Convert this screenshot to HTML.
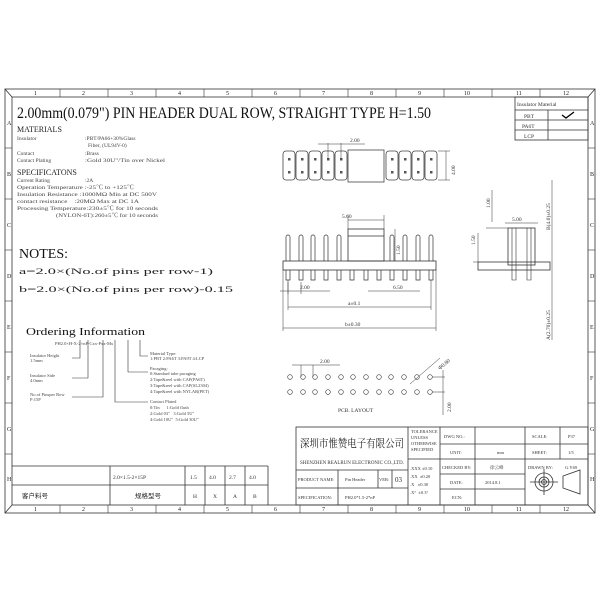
<!DOCTYPE html>
<html><head><meta charset="utf-8"><style>
html,body{margin:0;padding:0;background:#fff;}
svg{display:block;font-family:"Liberation Serif","Noto Serif CJK SC",serif;}
</style></head><body>
<svg width="600" height="600" viewBox="0 0 600 600" xmlns="http://www.w3.org/2000/svg">
<g fill="none" stroke="#333" stroke-width="0.8">
<rect x="5" y="89" width="590" height="424"/>
<rect x="12" y="97" width="576" height="408"/>
<line x1="5" y1="89" x2="12" y2="97"/><line x1="595" y1="89" x2="588" y2="97"/>
<line x1="5" y1="513" x2="12" y2="505"/><line x1="595" y1="513" x2="588" y2="505"/>
<g stroke-width="0.6">
<line x1="60" y1="89" x2="60" y2="97"/><line x1="108" y1="89" x2="108" y2="97"/><line x1="156" y1="89" x2="156" y2="97"/><line x1="204" y1="89" x2="204" y2="97"/><line x1="252" y1="89" x2="252" y2="97"/><line x1="300" y1="89" x2="300" y2="97"/><line x1="348" y1="89" x2="348" y2="97"/><line x1="396" y1="89" x2="396" y2="97"/><line x1="444" y1="89" x2="444" y2="97"/><line x1="492" y1="89" x2="492" y2="97"/><line x1="540" y1="89" x2="540" y2="97"/>
<line x1="60" y1="505" x2="60" y2="513"/><line x1="108" y1="505" x2="108" y2="513"/><line x1="156" y1="505" x2="156" y2="513"/><line x1="204" y1="505" x2="204" y2="513"/><line x1="252" y1="505" x2="252" y2="513"/><line x1="300" y1="505" x2="300" y2="513"/><line x1="348" y1="505" x2="348" y2="513"/><line x1="396" y1="505" x2="396" y2="513"/><line x1="444" y1="505" x2="444" y2="513"/><line x1="492" y1="505" x2="492" y2="513"/><line x1="540" y1="505" x2="540" y2="513"/>
<line x1="5" y1="148" x2="12" y2="148"/><line x1="5" y1="199" x2="12" y2="199"/><line x1="5" y1="250" x2="12" y2="250"/><line x1="5" y1="301" x2="12" y2="301"/><line x1="5" y1="352" x2="12" y2="352"/><line x1="5" y1="403" x2="12" y2="403"/><line x1="5" y1="454" x2="12" y2="454"/>
<line x1="588" y1="148" x2="595" y2="148"/><line x1="588" y1="199" x2="595" y2="199"/><line x1="588" y1="250" x2="595" y2="250"/><line x1="588" y1="301" x2="595" y2="301"/><line x1="588" y1="352" x2="595" y2="352"/><line x1="588" y1="403" x2="595" y2="403"/><line x1="588" y1="454" x2="595" y2="454"/>
</g>
<rect x="515" y="97" width="73" height="43"/>
<line x1="515" y1="110" x2="588" y2="110"/><line x1="515" y1="120" x2="588" y2="120"/><line x1="515" y1="130" x2="588" y2="130"/><line x1="548" y1="110" x2="548" y2="140"/>
<path d="M562 115 L566 118 L574 112" stroke="#000" stroke-width="1.3"/>
<g stroke="#444">
<rect x="283" y="151" width="12" height="29" rx="3"/><rect x="296" y="151" width="12" height="29" rx="3"/><rect x="309" y="151" width="12" height="29" rx="3"/><rect x="322" y="151" width="12" height="29" rx="3"/><rect x="335" y="151" width="12" height="29" rx="3"/>
<rect x="348" y="150" width="36" height="32"/>
<rect x="386" y="151" width="12" height="29" rx="3"/><rect x="399" y="151" width="12" height="29" rx="3"/><rect x="412" y="151" width="12" height="29" rx="3"/><rect x="425" y="151" width="12" height="29" rx="3"/>
</g>
<g fill="#555" stroke="none">
<rect x="288" y="158" width="2.5" height="2.5"/><rect x="288" y="171" width="2.5" height="2.5"/><rect x="301" y="158" width="2.5" height="2.5"/><rect x="301" y="171" width="2.5" height="2.5"/><rect x="314" y="158" width="2.5" height="2.5"/><rect x="314" y="171" width="2.5" height="2.5"/><rect x="327" y="158" width="2.5" height="2.5"/><rect x="327" y="171" width="2.5" height="2.5"/><rect x="340" y="158" width="2.5" height="2.5"/><rect x="340" y="171" width="2.5" height="2.5"/>
<rect x="391" y="158" width="2.5" height="2.5"/><rect x="391" y="171" width="2.5" height="2.5"/><rect x="404" y="158" width="2.5" height="2.5"/><rect x="404" y="171" width="2.5" height="2.5"/><rect x="417" y="158" width="2.5" height="2.5"/><rect x="417" y="171" width="2.5" height="2.5"/><rect x="430" y="158" width="2.5" height="2.5"/><rect x="430" y="171" width="2.5" height="2.5"/>
</g>
<g stroke-width="0.5">
<line x1="328" y1="143" x2="328" y2="159"/><line x1="341" y1="143" x2="341" y2="159"/><line x1="318" y1="144" x2="365" y2="144"/>
<line x1="438" y1="151" x2="450" y2="151"/><line x1="438" y1="180" x2="450" y2="180"/><line x1="446" y1="151" x2="446" y2="180"/>
</g>
<rect x="348" y="229" width="36" height="32"/><line x1="348" y1="236" x2="384" y2="236"/>
<rect x="283" y="261" width="153" height="9"/>
<g stroke-width="0.7">
<path d="M286 261V237a2 2 0 0 1 4 0V261 M286 270V280h4V270"/>
<path d="M299 261V237a2 2 0 0 1 4 0V261 M299 270V280h4V270"/>
<path d="M311 261V237a2 2 0 0 1 4 0V261 M311 270V280h4V270"/>
<path d="M324 261V237a2 2 0 0 1 4 0V261 M324 270V280h4V270"/>
<path d="M337 261V237a2 2 0 0 1 4 0V261 M337 270V280h4V270"/>
<path d="M350 270V280h4V270 M364 270V280h4V270"/>
<path d="M390 261V237a2 2 0 0 1 4 0V261 M390 270V280h4V270"/>
<path d="M403 261V237a2 2 0 0 1 4 0V261 M403 270V280h4V270"/>
<path d="M416 261V237a2 2 0 0 1 4 0V261 M416 270V280h4V270"/>
<path d="M429 261V237a2 2 0 0 1 4 0V261 M429 270V280h4V270"/>
<path d="M377 270V280h4V270"/>
</g>
<g stroke-width="0.5">
<line x1="348" y1="220" x2="384" y2="220"/><line x1="348" y1="215" x2="348" y2="229"/><line x1="384" y1="215" x2="384" y2="229"/>
<line x1="395" y1="229" x2="395" y2="261"/>
<line x1="280" y1="291" x2="330" y2="291"/><line x1="288" y1="282" x2="288" y2="294"/><line x1="301" y1="282" x2="301" y2="294"/>
<line x1="368" y1="291" x2="420" y2="291"/>
<line x1="288" y1="280" x2="288" y2="310"/><line x1="431" y1="280" x2="431" y2="310"/><line x1="288" y1="307" x2="431" y2="307"/>
<line x1="283" y1="270" x2="283" y2="331"/><line x1="436" y1="270" x2="436" y2="331"/><line x1="283" y1="328" x2="436" y2="328"/>
</g>
<rect x="508" y="228" width="27" height="37"/>
<rect x="478" y="262" width="72" height="8"/>
<path d="M512 228V280h4V228 M527 228V280h4V228" stroke-width="0.6"/>
<g stroke-width="0.5">
<line x1="505" y1="223" x2="538" y2="223"/><line x1="492" y1="190" x2="492" y2="222"/><line x1="486" y1="228" x2="508" y2="228"/>
<line x1="478" y1="233" x2="478" y2="262"/><line x1="473" y1="262" x2="478" y2="262"/>
<line x1="552" y1="180" x2="552" y2="340"/>
</g>
<g stroke-width="0.6">
<circle cx="290" cy="377" r="2.3"/><circle cx="303" cy="377" r="2.3"/><circle cx="315" cy="377" r="2.3"/><circle cx="328" cy="377" r="2.3"/><circle cx="341" cy="377" r="2.3"/><circle cx="353" cy="377" r="2.3"/><circle cx="366" cy="377" r="2.3"/><circle cx="379" cy="377" r="2.3"/><circle cx="391" cy="377" r="2.3"/><circle cx="404" cy="377" r="2.3"/><circle cx="417" cy="377" r="2.3"/><circle cx="430" cy="377" r="2.3"/>
<circle cx="290" cy="392" r="2.3"/><circle cx="303" cy="392" r="2.3"/><circle cx="315" cy="392" r="2.3"/><circle cx="328" cy="392" r="2.3"/><circle cx="341" cy="392" r="2.3"/><circle cx="353" cy="392" r="2.3"/><circle cx="366" cy="392" r="2.3"/><circle cx="379" cy="392" r="2.3"/><circle cx="391" cy="392" r="2.3"/><circle cx="404" cy="392" r="2.3"/><circle cx="417" cy="392" r="2.3"/><circle cx="430" cy="392" r="2.3"/>
</g>
<g stroke-width="0.5">
<line x1="292" y1="365" x2="340" y2="365"/><line x1="301" y1="365" x2="301" y2="377"/><line x1="313" y1="365" x2="313" y2="377"/>
<line x1="410" y1="384" x2="440" y2="358"/>
<line x1="432" y1="377" x2="445" y2="377"/><line x1="432" y1="392" x2="445" y2="392"/><line x1="443" y1="370" x2="443" y2="415"/>
</g>
<g stroke-width="0.6">
<path d="M72 358H80V340"/><path d="M72 378H88V340"/><path d="M72 397H103V340"/><path d="M148 402H115V340"/><path d="M148 372H128V340"/><path d="M148 356H140V340"/>
</g>
<line x1="12" y1="466" x2="268" y2="466"/><line x1="12" y1="485" x2="268" y2="485"/><line x1="268" y1="466" x2="268" y2="505"/>
<line x1="110" y1="466" x2="110" y2="505"/><line x1="185" y1="466" x2="185" y2="505"/><line x1="205" y1="466" x2="205" y2="505"/><line x1="225" y1="466" x2="225" y2="505"/><line x1="245" y1="466" x2="245" y2="505"/>
<rect x="296" y="427" width="292" height="78"/>
<line x1="408" y1="427" x2="408" y2="505"/><line x1="440" y1="427" x2="440" y2="505"/>
<line x1="296" y1="470" x2="408" y2="470"/><line x1="296" y1="488" x2="408" y2="488"/>
<line x1="338" y1="470" x2="338" y2="505"/><line x1="378" y1="470" x2="378" y2="488"/><line x1="392" y1="470" x2="392" y2="488"/>
<line x1="408" y1="459" x2="440" y2="459"/>
<line x1="440" y1="444" x2="588" y2="444"/><line x1="440" y1="459" x2="588" y2="459"/><line x1="440" y1="474" x2="525" y2="474"/><line x1="440" y1="489" x2="525" y2="489"/>
<line x1="475" y1="427" x2="475" y2="505"/><line x1="525" y1="427" x2="525" y2="505"/><line x1="560" y1="427" x2="560" y2="459"/>
<circle cx="544" cy="482" r="9"/><circle cx="544" cy="482" r="5"/><circle cx="544" cy="482" r="2.5"/>
<line x1="530" y1="482" x2="558" y2="482"/><line x1="544" y1="469" x2="544" y2="495"/>
<path d="M563 476L580 470V494L563 488Z"/>
</g>
<g fill="#222" font-size="6">
<text x="34" y="95">1</text><text x="82" y="95">2</text><text x="130" y="95">3</text><text x="178" y="95">4</text><text x="226" y="95">5</text><text x="274" y="95">6</text><text x="322" y="95">7</text><text x="370" y="95">8</text><text x="418" y="95">9</text><text x="464" y="95">10</text><text x="516" y="95">11</text><text x="563" y="95">12</text>
<text x="34" y="511">1</text><text x="82" y="511">2</text><text x="130" y="511">3</text><text x="178" y="511">4</text><text x="226" y="511">5</text><text x="274" y="511">6</text><text x="322" y="511">7</text><text x="370" y="511">8</text><text x="418" y="511">9</text><text x="464" y="511">10</text><text x="516" y="511">11</text><text x="563" y="511">12</text>
<text x="7" y="125">A</text><text x="7" y="176">B</text><text x="7" y="227">C</text><text x="7" y="278">D</text><text x="7" y="329">E</text><text x="7" y="380">F</text><text x="7" y="431">G</text><text x="7" y="481">H</text>
<text x="590" y="125">A</text><text x="590" y="176">B</text><text x="590" y="227">C</text><text x="590" y="278">D</text><text x="590" y="329">E</text><text x="590" y="380">F</text><text x="590" y="431">G</text><text x="590" y="481">H</text>
</g>
<text x="17" y="118" font-size="16" fill="#111" textLength="414" lengthAdjust="spacingAndGlyphs">2.00mm(0.079") PIN HEADER DUAL ROW, STRAIGHT TYPE H=1.50</text>
<g font-size="8" fill="#222"><text x="17" y="132">MATERIALS</text><text x="17" y="175">SPECIFICATONS</text></g>
<g font-size="5.5" fill="#444">
<text x="17" y="140">Insulator</text><text x="85" y="140">:PBT/PA66+30%Glass</text><text x="88" y="147">Fiber, (UL94V-0)</text>
<text x="17" y="155">Contact</text><text x="85" y="155">:Brass</text>
<text x="17" y="162">Contact Plating</text><text x="85" y="162" textLength="80" lengthAdjust="spacingAndGlyphs">:Gold 30U"/Tin over Nickel</text>
<text x="17" y="182">Current Rating</text><text x="85" y="182">:2A</text>
<text x="17" y="189" textLength="117" lengthAdjust="spacingAndGlyphs">Operation Temperature :-25℃ to +125℃</text>
<text x="17" y="196" textLength="140" lengthAdjust="spacingAndGlyphs">Insulation Resistance :1000MΩ Min at DC 500V</text>
<text x="17" y="203" textLength="122" lengthAdjust="spacingAndGlyphs">contact resistance&#160;&#160;&#160; :20MΩ Max at DC 1A</text>
<text x="17" y="210" textLength="141" lengthAdjust="spacingAndGlyphs">Processing Temperature:230±5℃ for 10 seconds</text>
<text x="56" y="217" textLength="102" lengthAdjust="spacingAndGlyphs">(NYLON-6T):260±5℃ for 10 seconds</text>
</g>
<text x="19" y="258" font-size="14" fill="#111">NOTES:</text>
<g font-size="8" fill="#222"><text x="19" y="274" textLength="194" lengthAdjust="spacingAndGlyphs">a=2.0×(No.of pins per row-1)</text><text x="19" y="292" textLength="214" lengthAdjust="spacingAndGlyphs">b=2.0×(No.of pins per row)-0.15</text></g>
<text x="26" y="335" font-size="11" fill="#111" textLength="119" lengthAdjust="spacingAndGlyphs">Ordering Information</text>
<g font-size="4.5" fill="#444">
<text x="55" y="345">PH2.0×H-X-2×nP-Cxx-Pxx-Mx</text>
<text x="30" y="357">Insulator Height</text><text x="30" y="362">1.5mm</text>
<text x="30" y="377">Insulator Side</text><text x="30" y="382">4.0mm</text>
<text x="30" y="396">No.of Pinsper Row</text><text x="30" y="401">P:15P</text>
<text x="150" y="355">Material Type:</text><text x="150" y="360">1:PBT 2:PA6T 3:PA9T 4:LCP</text>
<text x="150" y="370">Pacaging:</text><text x="150" y="375">0:Standard tube pacaging</text><text x="150" y="381">2:Tape&amp;reel with CAP(PA6T)</text><text x="150" y="387">3:Tape&amp;reel with CAP(SL2304)</text><text x="150" y="393">4:Tape&amp;reel with NYLAR(PET)</text>
<text x="150" y="403">Contact Plated</text><text x="150" y="409">0:Tin&#160;&#160;&#160;&#160;&#160; 1:Gold flash</text><text x="150" y="415">2:Gold 03"&#160;&#160; 3:Gold 5U"</text><text x="150" y="421">4:Gold 10U"&#160; 5:Gold 30U"</text>
</g>
<g font-size="5.5" fill="#333">
<text x="517" y="106">Insulator Material</text><text x="524" y="118">PBT</text><text x="522" y="128">PA6T</text><text x="524" y="138">LCP</text>
<text x="350" y="142">2.00</text>
<text x="342" y="218">5.60</text><text x="300" y="289">2.00</text><text x="393" y="289">6.50</text>
<text x="348" y="305">a±0.1</text><text x="345" y="326">b±0.30</text>
<text x="512" y="221">5.00</text>
<text x="338" y="412">PCB. LAYOUT</text><text x="320" y="363">2.00</text>
</g>
<g font-size="5.5" fill="#333">
<text transform="translate(455,175) rotate(-90)">4.00</text>
<text transform="translate(400,255) rotate(-90)">1.50</text>
<text transform="translate(490,208) rotate(-90)">1.00</text>
<text transform="translate(475,245) rotate(-90)">1.50</text>
<text transform="translate(550,230) rotate(-90)">B(4.0)±0.25</text>
<text transform="translate(550,340) rotate(-90)">A(2.70)±0.25</text>
<text transform="translate(451,412) rotate(-90)">2.00</text>
<text transform="translate(440,370) rotate(-40)">Φ0.80</text>
</g>
<g font-size="5.5" fill="#333">
<text x="113" y="479">2.0×1.5-2×15P</text><text x="190" y="479">1.5</text><text x="209" y="479">4.0</text><text x="229" y="479">2.7</text><text x="249" y="479">4.0</text>
<text x="193" y="498">H</text><text x="213" y="498">X</text><text x="233" y="498">A</text><text x="253" y="498">B</text>
</g>
<text x="22" y="498" font-size="6.5" fill="#222" font-family="Noto Sans CJK SC,sans-serif">客户料号</text>
<text x="135" y="498" font-size="6.5" fill="#222" font-family="Noto Sans CJK SC,sans-serif">规格型号</text>
<text x="300" y="447" font-size="11" fill="#222" font-family="Noto Serif CJK SC,serif" textLength="104" lengthAdjust="spacingAndGlyphs">深圳市惟赞电子有限公司</text>
<text x="300" y="464" font-size="5" fill="#333" textLength="104" lengthAdjust="spacingAndGlyphs">SHENZHEN REALRUN ELECTRONIC CO.,LTD.</text>
<g font-size="4.5" fill="#333">
<text x="298" y="481">PRODUCT NAME:</text><text x="345" y="481">Pin Header</text><text x="379" y="481">VER:</text><text x="395" y="482" font-size="7">03</text>
<text x="298" y="499">SPECIFICATION:</text><text x="345" y="499">PH2.0*1.5-2*nP</text>
<text x="411" y="433">TOLERANCE</text><text x="411" y="439">UNLESS</text><text x="411" y="445">OTHERWISE</text><text x="411" y="451">SPECIFIED</text>
<text x="410" y="470">.XXX ±0.10</text><text x="410" y="478">.XX&#160; ±0.20</text><text x="410" y="486">.X&#160;&#160; ±0.30</text><text x="410" y="494">.X°&#160; ±0.3°</text>
<text x="444" y="438">DWG NO.:</text><text x="450" y="454">UNIT:</text><text x="442" y="469">CHECKED BY:</text><text x="450" y="484">DATE:</text><text x="452" y="499">ECN:</text>
<text x="497" y="454">mm</text><text x="490" y="469">徐云峰</text><text x="485" y="484">2014.8.1</text>
<text x="532" y="438">SCALE:</text><text x="532" y="454">SHEET:</text><text x="528" y="469">DRAWN BY:</text>
<text x="568" y="438">P37</text><text x="568" y="454">1/5</text><text x="565" y="469">G.Y69</text>
</g>
</svg>
</body></html>
